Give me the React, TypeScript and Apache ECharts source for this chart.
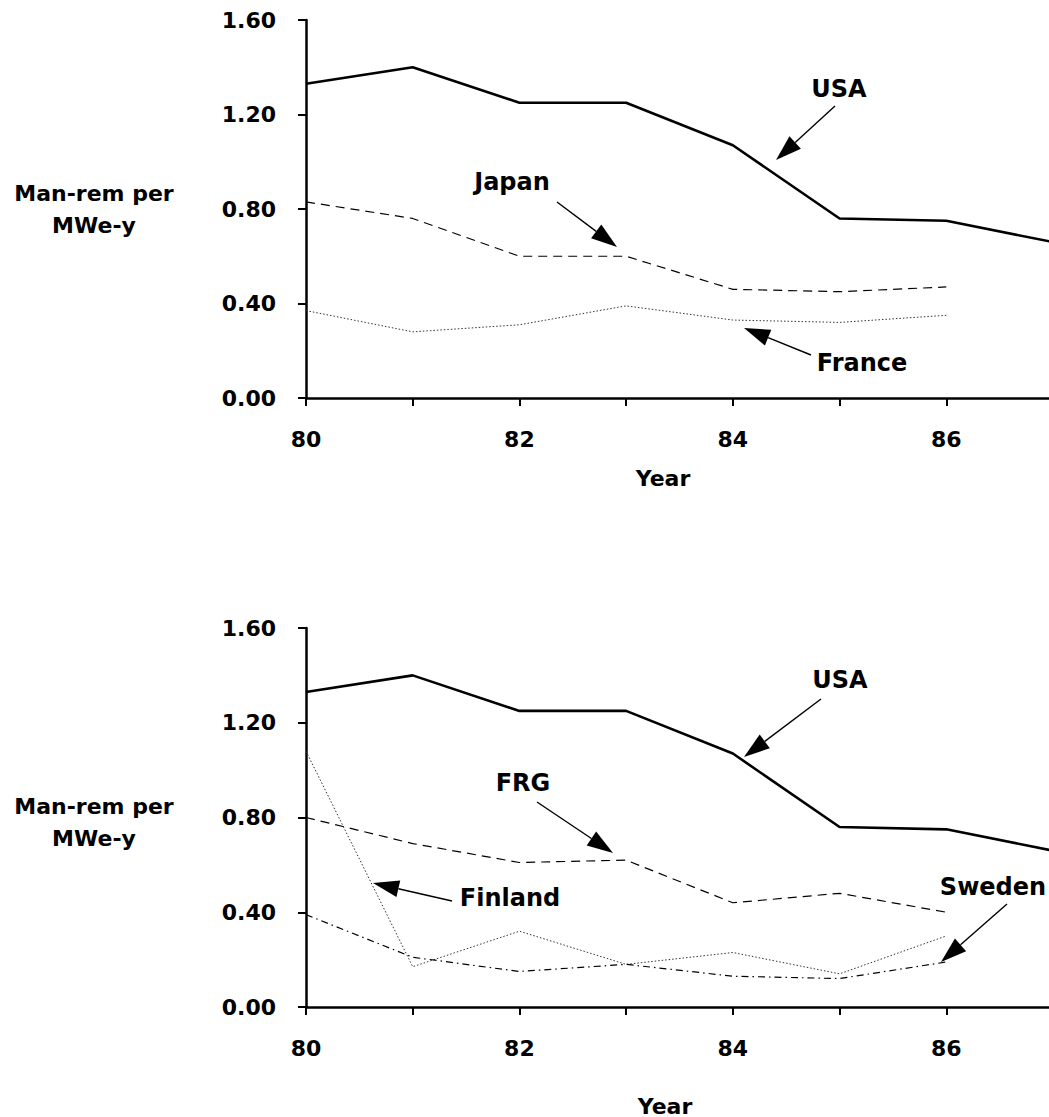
import React, { useEffect, useRef } from "react";
import * as echarts from "echarts";

const years = [80, 81, 82, 83, 84, 85, 86, 87];
const yTicks = [0, 0.4, 0.8, 1.2, 1.6];

const usaTop = [1.33, 1.4, 1.25, 1.25, 1.07, 0.76, 0.75, 0.66];
const japan = [0.83, 0.76, 0.6, 0.6, 0.46, 0.45, 0.47];
const france = [0.37, 0.28, 0.31, 0.39, 0.33, 0.32, 0.35];

const usaBottom = [1.33, 1.4, 1.25, 1.25, 1.07, 0.76, 0.75, 0.66];
const frg = [0.8, 0.69, 0.61, 0.62, 0.44, 0.48, 0.4];
const finland = [1.08, 0.17, 0.32, 0.18, 0.23, 0.14, 0.3];
const sweden = [0.39, 0.21, 0.15, 0.18, 0.13, 0.12, 0.19];

const FONT = "DejaVu Sans";

function pairs(vals: number[]) {
  return vals.map((v, i) => [years[i], v]);
}

function arrow(x1: number, y1: number, x2: number, y2: number) {
  const dx = x2 - x1;
  const dy = y2 - y1;
  const len = Math.sqrt(dx * dx + dy * dy);
  const ux = dx / len;
  const uy = dy / len;
  const hl = 26;
  const hw = 8.5;
  const bx = x2 - ux * hl;
  const by = y2 - uy * hl;
  const px = -uy;
  const py = ux;
  return [
    {
      type: "line",
      shape: { x1, y1, x2: bx, y2: by },
      style: { stroke: "#000", lineWidth: 1.4 },
      silent: true,
    },
    {
      type: "polygon",
      shape: {
        points: [
          [x2, y2],
          [bx + px * hw, by + py * hw],
          [bx - px * hw, by - py * hw],
        ],
      },
      style: { fill: "#000" },
      silent: true,
    },
  ];
}

function label(text: string, x: number, y: number, size = 24) {
  return {
    type: "text",
    x,
    y,
    style: {
      text,
      font: `bold ${size}px "${FONT}"`,
      fill: "#000",
      align: "center",
      verticalAlign: "middle",
    },
    silent: true,
  };
}

function nameLabel(x: number, y: number) {
  return {
    type: "text",
    x,
    y,
    style: {
      text: "Man-rem per\nMWe-y",
      fontFamily: FONT,
      fontWeight: "bold",
      fontSize: 22,
      lineHeight: 32,
      fill: "#000",
      align: "center",
      verticalAlign: "middle",
    },
    silent: true,
  };
}

export default function App() {
  const ref = useRef<HTMLDivElement>(null);

  useEffect(() => {
    if (!ref.current) return;
    const chart = echarts.init(ref.current, null, { renderer: "svg" });

    const xAxisBase = (gridIndex: number) => ({
      type: "value",
      gridIndex,
      min: 80,
      max: 87,
      interval: 1,
      axisLine: { show: true, onZero: false, lineStyle: { color: "#000", width: 2.5 } },
      axisTick: { show: true, length: 8, lineStyle: { color: "#000", width: 2 } },
      axisLabel: {
        margin: 30,
        fontFamily: FONT,
        fontWeight: "bold",
        fontSize: 22,
        color: "#000",
        formatter: (v: number) => (v % 2 === 0 && v < 87 ? String(v) : ""),
      },
      splitLine: { show: false },
    });

    const yAxisBase = (gridIndex: number) => ({
      type: "value",
      gridIndex,
      min: yTicks[0],
      max: yTicks[yTicks.length - 1],
      interval: 0.4,
      axisLine: { show: true, onZero: false, lineStyle: { color: "#000", width: 2.5 } },
      axisTick: { show: true, length: 8, lineStyle: { color: "#000", width: 2 } },
      axisLabel: {
        margin: 30,
        fontFamily: FONT,
        fontWeight: "bold",
        fontSize: 22,
        color: "#000",
        formatter: (v: number) => v.toFixed(2),
      },
      splitLine: { show: false },
    });

    const solid = { color: "#000", width: 2.6, type: "solid" };
    const dashed = { color: "#000", width: 1.2, type: [9, 6] };
    const dotted = { color: "#333", width: 1, type: [1.5, 2] };
    const dashDot = { color: "#000", width: 1.2, type: [7, 4, 1.5, 4] };

    const mk = (name: string, vals: number[], ls: any, idx: number) => ({
      name,
      type: "line",
      xAxisIndex: idx,
      yAxisIndex: idx,
      data: pairs(vals),
      showSymbol: false,
      symbol: "none",
      lineStyle: ls,
      clip: false,
      z: name === "USA" ? 5 : 3,
    });

    chart.setOption({
      animation: false,
      backgroundColor: "#fff",
      grid: [
        { left: 306, top: 20, width: 747.6, height: 378 },
        { left: 306, top: 628, width: 747.6, height: 379 },
      ],
      xAxis: [xAxisBase(0), xAxisBase(1)],
      yAxis: [yAxisBase(0), yAxisBase(1)],
      series: [
        mk("USA", usaTop, solid, 0),
        mk("Japan", japan, dashed, 0),
        mk("France", france, dotted, 0),
        mk("USA", usaBottom, solid, 1),
        mk("FRG", frg, dashed, 1),
        mk("Finland", finland, dotted, 1),
        mk("Sweden", sweden, dashDot, 1),
      ],
      graphic: [
        nameLabel(94, 209),
        nameLabel(94, 822),
        label("Year", 663, 478, 22),
        label("Year", 665, 1106, 22),
        label("USA", 839, 89),
        label("Japan", 512, 182),
        label("France", 862, 363),
        label("USA", 840, 680),
        label("FRG", 523, 783),
        label("Finland", 510, 898),
        label("Sweden", 993, 887),
        ...arrow(835, 106, 776, 160),
        ...arrow(557, 202, 617, 247),
        ...arrow(811, 355, 744, 328),
        ...arrow(821, 699, 744, 757),
        ...arrow(537, 802, 613, 853),
        ...arrow(452, 901, 373, 883),
        ...arrow(1007, 904, 941, 962),
      ],
    });

    return () => chart.dispose();
  }, []);

  return (
    <div
      style={{
        position: "absolute",
        left: 0,
        top: 0,
        width: 1049,
        height: 1117,
        overflow: "hidden",
        background: "#fff",
      }}
    >
      <div ref={ref} style={{ width: 1056, height: 1117 }} />
    </div>
  );
}
